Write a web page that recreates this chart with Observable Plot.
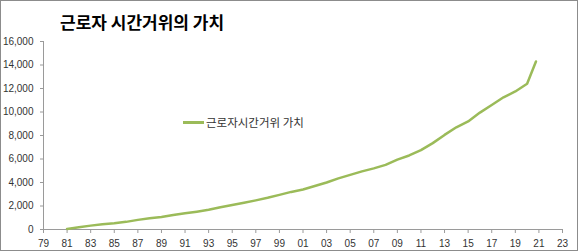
<!DOCTYPE html>
<html><head><meta charset="utf-8">
<script src="https://cdn.jsdelivr.net/npm/d3@7"></script>
<script src="https://cdn.jsdelivr.net/npm/@observablehq/plot@0.6"></script>
<style>
body{margin:0;background:#fff;}
#wrap{position:relative;width:580px;height:252px;overflow:hidden;}
#frame{position:absolute;left:0;top:0;width:576px;height:249px;border:1px solid #8c8c8c;pointer-events:none;}
#title{position:absolute;left:60px;top:9px;font:bold 17px "Noto Sans CJK KR",sans-serif;color:#000;white-space:nowrap;}
#legend{position:absolute;left:183px;top:114px;font:11.5px "Noto Sans CJK KR",sans-serif;color:#333;white-space:nowrap;display:flex;align-items:center;}
#legend span.sw{display:inline-block;width:21px;height:3px;background:#9BBB59;margin-right:2px;}
</style></head>
<body><div id="wrap"><div id="chart"></div><div id="title"></div><div id="legend"></div><div id="frame"></div></div>
<script>
const title = "근로자 시간거위의 가치";
const seriesName = "근로자시간거위 가치";
const years = [1981,1982,1983,1984,1985,1986,1987,1988,1989,1990,1991,1992,1993,1994,1995,1996,1997,1998,1999,2000,2001,2002,2003,2004,2005,2006,2007,2008,2009,2010,2011,2012,2013,2014,2015,2016,2017,2018,2019,2020,2020.75];
const values = [50,200,330,450,530,650,820,950,1070,1230,1380,1520,1680,1900,2080,2280,2480,2700,2950,3200,3400,3700,4000,4350,4650,4950,5200,5500,5950,6300,6750,7350,8050,8700,9200,9950,10600,11250,11750,12400,14300];
const xTicks = d3.range(1979, 2024, 2);
const yTicks = [0,2000,4000,6000,8000,10000,12000,14000,16000];

const data = years.map((y,i)=>({year:y, value:values[i]}));
document.getElementById("title").textContent = title;
document.getElementById("legend").innerHTML = '<span class="sw"></span>' + seriesName;

const axisColor = "#9a9a9a";
const chart = Plot.plot({
  width:580, height:252,
  marginLeft:43, marginRight:18, marginTop:41, marginBottom:23,
  style:{fontFamily:"'Liberation Sans', Arial, sans-serif", fontSize:"10px", color:"#333", background:"transparent"},
  x:{domain:[1979,2023]},
  y:{domain:[0,16000]},
  marks:[
    Plot.axisY({ticks:yTicks, tickFormat:d3.format(","), tickSize:3, tickPadding:7, stroke:axisColor, fill:"#333", label:null}),
    Plot.axisX({ticks:xTicks, tickFormat:d=>String(d%100).padStart(2,"0"), tickSize:4, tickPadding:6, stroke:axisColor, fill:"#333", label:null}),
    Plot.ruleX([1979], {stroke:axisColor}),
    Plot.ruleY([0], {stroke:axisColor}),
    Plot.line(data, {x:"year", y:"value", stroke:"#9BBB59", strokeWidth:2.5, strokeLinejoin:"round"})
  ]
});
document.getElementById("chart").appendChild(chart);
</script></body></html>
